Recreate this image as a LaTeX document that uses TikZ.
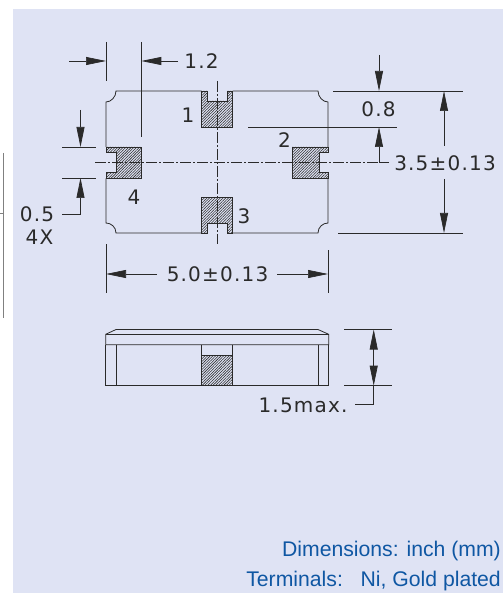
\documentclass[tikz,border=0pt]{standalone}
\usepackage{fontspec}
\setmainfont{DejaVu Sans}[LetterSpace=6]
\newfontfamily\notefont{Liberation Sans}
\usetikzlibrary{arrows.meta,patterns.meta}
\definecolor{panelblue}{HTML}{DFE3F4}
\definecolor{noteblue}{HTML}{0F57A3}
\definecolor{inkgray}{HTML}{2A2A2A}
\tikzset{
 outline/.style={draw=inkgray,line width=0.8pt},
 hatched/.style={outline,pattern={Lines[angle=45,distance=1.9pt,line width=0.55pt]},pattern color=inkgray},
 thin line/.style={draw=inkgray,line width=0.7pt},
 center line/.style={draw=inkgray,line width=0.6pt,dash pattern=on 11pt off 2pt on 2pt off 2pt},
 dim arrow/.style={thin line,-{Triangle[length=20pt,width=8pt]}},
 dim text/.style={font=\fontsize{20}{20}\selectfont,text=inkgray,inner sep=0pt},
 note text/.style={font=\notefont\fontsize{21.2}{22}\selectfont,text=noteblue,inner sep=0pt,anchor=east}
}
\begin{document}
\begin{tikzpicture}[x=1pt,y=-1pt]
 \useasboundingbox (0,0) rectangle (503,593);
 \fill [panelblue] (13,9) rectangle (503,593);
 \draw [gray,line width=1pt] (3,153) -- (3,318);
 \draw [gray,line width=0.7pt] (0,213) -- (3,213);
 % top view
 \draw [outline] (201.7,91) -- (116,91) .. controls (116,97) and (111,102) .. (106,102) -- (106,147);
 \draw [outline] (232.7,91) -- (318,91) .. controls (318,97) and (323,102) .. (328,102) -- (328,147);
 \draw [outline] (201.7,233) -- (116,233) .. controls (116,227) and (111,223) .. (106,223) -- (106,178.3);
 \draw [outline] (232.7,233) -- (318,233) .. controls (318,227) and (323,223) .. (328,223) -- (328,178.3);
 \draw [hatched] (201.7,91) -- (207.7,91) -- (207.7,101) -- (227.3,101) -- (227.3,91) -- (232.7,91) -- (232.7,127) -- (201.7,127) -- cycle;
 \draw [hatched] (201.7,233) -- (207.7,233) -- (207.7,223.3) -- (227.3,223.3) -- (227.3,233) -- (232.7,233) -- (232.7,197.7) -- (201.7,197.7) -- cycle;
 \draw [hatched] (106,147) -- (106,152.7) -- (116,152.7) -- (116,172.7) -- (106,172.7) -- (106,178.3) -- (141.7,178.3) -- (141.7,147) -- cycle;
 \draw [hatched] (328,147) -- (328,152.7) -- (319,152.7) -- (319,172.7) -- (328,172.7) -- (328,178.3) -- (292.3,178.3) -- (292.3,147) -- cycle;
 \draw [center line] (95,162.5) -- (389,162.5);
 \draw [center line] (217,81) -- (217,244);
 \node at (188,115) [dim text] (pinA) {1};
 \node at (284.5,140) [dim text] (pinB) {2};
 \node at (244,216) [dim text] (pinC) {3};
 \node at (134,197) [dim text] (pinD) {4};
 % dimension 1.2
 \draw [thin line] (106,42) -- (106,81);
 \draw [thin line] (141.3,42) -- (141.3,137);
 \draw [dim arrow] (69,61) -- (106,61);
 \draw [dim arrow] (178,61) -- (141.3,61);
 \node at (201.5,61.5) [dim text] (padw) {1.2};
 % dimension 0.5
 \draw [thin line] (62,147) -- (96,147);
 \draw [thin line] (62,178) -- (96,178);
 \draw [dim arrow] (80.5,110) -- (80.5,147);
 \draw [dim arrow] (62,214) -- (80.5,214) -- (80.5,178);
 \node at (37,214) [dim text] (padh) {0.5};
 \node at (39.5,237) [dim text] (padn) {4X};
 % dimension 5.0
 \draw [thin line] (106,244) -- (106,293);
 \draw [thin line] (328,250) -- (328,293);
 \draw [dim arrow] (157,274) -- (106,274);
 \draw [dim arrow] (277,274) -- (328,274);
 \node at (217.5,274.5) [dim text] (bodyw) {5.0±0.13};
 % dimensions 0.8 and 3.5
 \draw [thin line] (333,91) -- (463,91);
 \draw [thin line] (248,127) -- (397,127);
 \draw [thin line] (338,233) -- (463,233);
 \draw [dim arrow] (379,55) -- (379,91);
 \draw [dim arrow] (389,162.5) -- (379,162.5) -- (379,127);
 \node at (378.5,109.5) [dim text] (gap) {0.8};
 \draw [dim arrow] (444,146) -- (444,91);
 \draw [dim arrow] (444,179) -- (444,233);
 \node at (445,163) [dim text] (bodyh) {3.5±0.13};
 % side view
 \draw [outline] (105.7,344.7) -- (105.7,334.3) -- (116,329.5) -- (318,329.5) -- (328.7,334.3) -- (328.7,344.7) -- cycle;
 \draw [outline] (105.7,334.3) -- (328.7,334.3);
 \draw [outline] (105.7,344.7) -- (105.7,385.7) -- (328.7,385.7) -- (328.7,344.7);
 \draw [outline] (116,344.7) -- (116,385.7);
 \draw [outline] (318,344.7) -- (318,385.7);
 \draw [outline] (201.7,344.7) -- (201.7,355);
 \draw [outline] (232.7,344.7) -- (232.7,355);
 \draw [hatched] (201.7,355) rectangle (232.7,385.7);
 % dimension 1.5
 \draw [thin line] (344,329.5) -- (392,329.5);
 \draw [thin line] (344,385.7) -- (392,385.7);
 \draw [dim arrow] (373.7,350) -- (373.7,329.5);
 \draw [dim arrow] (373.7,350) -- (373.7,385.7);
 \draw [thin line] (355,404) -- (373.7,404) -- (373.7,385.7);
 \node at (303,405) [dim text] (height) {1.5max.};
 % notes
 \node at (501,551) [note text] (dimnote) {Dimensions: inch (mm)};
 \node at (501,581) [note text] (termnote) {Terminals:\ \ \ Ni, Gold plated};
\end{tikzpicture}
\end{document}
